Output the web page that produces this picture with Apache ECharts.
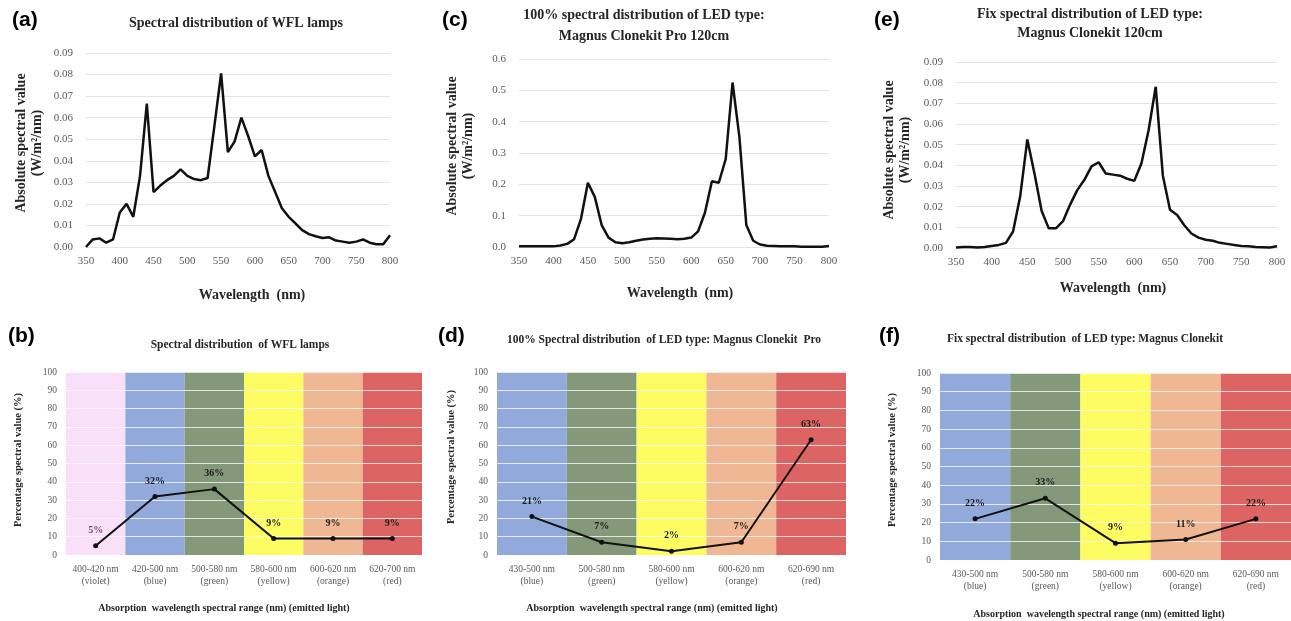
<!DOCTYPE html>
<html>
<head>
<meta charset="utf-8">
<script src="https://cdn.jsdelivr.net/npm/echarts@6/dist/echarts.min.js"></script>
<style>
  html, body { margin: 0; padding: 0; background: #fff; }
  #main { width: 1291px; height: 621px; }
</style>
</head>
<body>
<div id="main"></div>
<script>
// wavelengths (nm) for the three spectra
const wavelengths = [350, 360, 370, 380, 390, 400, 410, 420, 430, 440, 450, 460, 470, 480, 490,
  500, 510, 520, 530, 540, 550, 560, 570, 580, 590, 600, 610, 620, 630, 640, 650, 660, 670, 680,
  690, 700, 710, 720, 730, 740, 750, 760, 770, 780, 790, 800]

// (a) WFL lamps
const wflSpectrum = [0.000, 0.0035, 0.004, 0.002, 0.0035, 0.016, 0.020, 0.014, 0.033, 0.0665,
  0.0255, 0.0285, 0.031, 0.033, 0.036, 0.033, 0.0315, 0.031, 0.032, 0.056, 0.0805, 0.044, 0.049,
  0.060, 0.0515, 0.042, 0.045, 0.033, 0.0255, 0.018, 0.014, 0.011, 0.0078, 0.006, 0.005, 0.0042,
  0.0045, 0.003, 0.0025, 0.002, 0.0025, 0.0035, 0.002, 0.0013, 0.0013, 0.0055]

// (c) LED 100% Magnus Clonekit Pro
const proSpectrum = [0.002, 0.002, 0.002, 0.002, 0.002, 0.002, 0.005, 0.010, 0.025, 0.09, 0.205,
  0.16, 0.07, 0.03, 0.015, 0.012, 0.015, 0.02, 0.024, 0.026, 0.028, 0.027, 0.026, 0.025, 0.026,
  0.03, 0.05, 0.11, 0.21, 0.205, 0.28, 0.525, 0.35, 0.07, 0.02, 0.008, 0.004, 0.003, 0.002, 0.002,
  0.002, 0.001, 0.001, 0.001, 0.001, 0.003]

// (e) LED fix Magnus Clonekit
const fixSpectrum = [0.0003, 0.0005, 0.0005, 0.0002, 0.0005, 0.001, 0.0015, 0.0025, 0.008, 0.025,
  0.0525, 0.036, 0.018, 0.0095, 0.0095, 0.013, 0.021, 0.028, 0.033, 0.0395, 0.0415, 0.036, 0.0355,
  0.035, 0.0335, 0.0325, 0.041, 0.057, 0.078, 0.035, 0.0185, 0.016, 0.011, 0.007, 0.005, 0.004,
  0.0035, 0.0025, 0.002, 0.0015, 0.001, 0.0008, 0.0005, 0.0004, 0.0002, 0.0008]

// percentage panels
const wflRanges = ['400-420 nm\n(violet)', '420-500 nm\n(blue)', '500-580 nm\n(green)',
  '580-600 nm\n(yellow)', '600-620 nm\n(orange)', '620-700 nm\n(red)']
const wflPercent = [5, 32, 36, 9, 9, 9]

const proRanges = ['430-500 nm\n(blue)', '500-580 nm\n(green)', '580-600 nm\n(yellow)',
  '600-620 nm\n(orange)', '620-690 nm\n(red)']
const proPercent = [21, 7, 2, 7, 63]

const fixRanges = ['430-500 nm\n(blue)', '500-580 nm\n(green)', '580-600 nm\n(yellow)',
  '600-620 nm\n(orange)', '620-690 nm\n(red)']
const fixPercent = [22, 33, 9, 11, 22]

const bandsWfl = ['#f9e0f8', '#91aadb', '#84997a', '#fdfd63', '#efb793', '#dc6564']
const bandsLed = ['#91aadb', '#84997a', '#fdfd63', '#efb793', '#dc6564']

const serif = 'Liberation Serif'
const tickGrey = '#595959'

const chart = echarts.init(document.getElementById('main'))

const pair = (ys) => wavelengths.map((w, i) => [w, ys[i]])

// top row grids (spectra) and bottom row grids (percentages)
const grids = [
  { left: 86, top: 53, width: 304, height: 194 },
  { left: 519, top: 59, width: 310, height: 188 },
  { left: 956, top: 62, width: 321, height: 186 },
  { left: 66, top: 372, width: 356, height: 183 },
  { left: 497, top: 372, width: 349, height: 183 },
  { left: 940, top: 373, width: 351, height: 187 }
]

const specX = (idx) => ({
  gridIndex: idx, type: 'value', min: 350, max: 800, interval: 50,
  axisLine: { show: false }, axisTick: { show: false }, splitLine: { show: false },
  axisLabel: { color: tickGrey, fontFamily: serif, fontSize: 11, margin: 9 }
})
const specY = (idx, max, interval, dec) => ({
  gridIndex: idx, type: 'value', min: 0, max: max, interval: interval,
  axisLine: { show: false }, axisTick: { show: false },
  splitLine: { lineStyle: { color: '#e4e4e4', width: 1 } },
  axisLabel: { color: tickGrey, fontFamily: serif, fontSize: 11, margin: 13,
    formatter: (v) => v.toFixed(dec) }
})
const pctX = (idx, cats, colors) => ({
  gridIndex: idx, type: 'category', data: cats, boundaryGap: true, z: 0,
  axisLine: { show: false }, axisTick: { show: false },
  splitArea: { show: true, interval: 0, areaStyle: { color: colors } },
  axisLabel: { color: tickGrey, fontFamily: serif, fontSize: 9.5, lineHeight: 12, margin: 8, interval: 0 }
})
const pctY = (idx) => ({
  gridIndex: idx, type: 'value', min: 0, max: 100, interval: 10, z: 1,
  axisLine: { show: false }, axisTick: { show: false },
  splitLine: { lineStyle: { color: 'rgba(255,255,255,0.75)', width: 1 } },
  axisLabel: { color: tickGrey, fontFamily: serif, fontSize: 9.5, margin: 9 }
})

const specSeries = (idx, ys) => ({
  type: 'line', xAxisIndex: idx, yAxisIndex: idx, data: pair(ys),
  showSymbol: false, lineStyle: { color: '#111', width: 2.5 }, z: 5
})
const pctSeries = (idx, ys, labelColors) => ({
  type: 'line', xAxisIndex: idx, yAxisIndex: idx, z: 5,
  data: ys.map((v, i) => ({ value: v, label: { color: labelColors ? labelColors[i] : '#1a1a1a' } })),
  symbol: 'circle', symbolSize: 5,
  itemStyle: { color: '#111' }, lineStyle: { color: '#111', width: 2 },
  label: { show: true, position: 'top', distance: 8, formatter: '{c}%',
    fontFamily: serif, fontWeight: 'bold', fontSize: 10 }
})

const txt = (x, y, text, opt) => ({
  type: 'text', x: x, y: y, rotation: opt.rot ? Math.PI / 2 : 0,
  style: Object.assign({ text: text, align: 'center', verticalAlign: 'middle',
    fill: '#262626', fontFamily: serif, fontWeight: 'bold', fontSize: 14 }, opt.style || {})
})
const letter = (x, y, text) => ({
  type: 'text', x: x, y: y,
  style: { text: text, align: 'left', verticalAlign: 'middle', fill: '#000',
    fontFamily: 'Liberation Sans', fontWeight: 'bold', fontSize: 21 }
})

const yNameTop = 'Absolute spectral value\n(W/m²/nm)'
const yNameBot = 'Percentage spectral value (%)'
const xNameBot = 'Absorption  wavelength spectral range (nm) (emitted light)'

chart.setOption({
  animation: false,
  grid: grids,
  xAxis: [
    specX(0), specX(1), specX(2),
    pctX(3, wflRanges, bandsWfl), pctX(4, proRanges, bandsLed), pctX(5, fixRanges, bandsLed)
  ],
  yAxis: [
    specY(0, 0.09, 0.01, 2), specY(1, 0.6, 0.1, 1), specY(2, 0.09, 0.01, 2),
    pctY(3), pctY(4), pctY(5)
  ],
  series: [
    specSeries(0, wflSpectrum), specSeries(1, proSpectrum), specSeries(2, fixSpectrum),
    pctSeries(3, wflPercent, ['#6e4f6e', '#1a1a1a', '#1a1a1a', '#1a1a1a', '#1a1a1a', '#1a1a1a']),
    pctSeries(4, proPercent), pctSeries(5, fixPercent)
  ],
  graphic: [
    letter(12, 20, '(a)'), letter(442, 20, '(c)'), letter(874, 20, '(e)'),
    letter(8, 336, '(b)'), letter(438, 336, '(d)'), letter(879, 336, '(f)'),

    txt(236, 23, 'Spectral distribution of WFL lamps', {}),
    txt(644, 26, '100% spectral distribution of LED type:\nMagnus Clonekit Pro 120cm',
      { style: { lineHeight: 21 } }),
    txt(1090, 24, 'Fix spectral distribution of LED type:\nMagnus Clonekit 120cm',
      { style: { lineHeight: 19 } }),

    txt(29, 143, yNameTop, { rot: true, style: { lineHeight: 16 } }),
    txt(460, 146, yNameTop, { rot: true, style: { lineHeight: 16 } }),
    txt(897, 150, yNameTop, { rot: true, style: { lineHeight: 16 } }),

    txt(252, 295, 'Wavelength  (nm)', {}),
    txt(680, 293, 'Wavelength  (nm)', {}),
    txt(1113, 288, 'Wavelength  (nm)', {}),

    txt(240, 345, 'Spectral distribution  of WFL lamps', { style: { fontSize: 11.5 } }),
    txt(664, 340, '100% Spectral distribution  of LED type: Magnus Clonekit  Pro', { style: { fontSize: 11.5 } }),
    txt(1085, 339, 'Fix spectral distribution  of LED type: Magnus Clonekit', { style: { fontSize: 11.5 } }),

    txt(18, 460, yNameBot, { rot: true, style: { fontSize: 10.5 } }),
    txt(451, 457, yNameBot, { rot: true, style: { fontSize: 10.5 } }),
    txt(892, 460, yNameBot, { rot: true, style: { fontSize: 10.5 } }),

    txt(224, 608, xNameBot, { style: { fontSize: 10 } }),
    txt(652, 608, xNameBot, { style: { fontSize: 10 } }),
    txt(1099, 614, xNameBot, { style: { fontSize: 10 } })
  ]
})
</script>
</body>
</html>
